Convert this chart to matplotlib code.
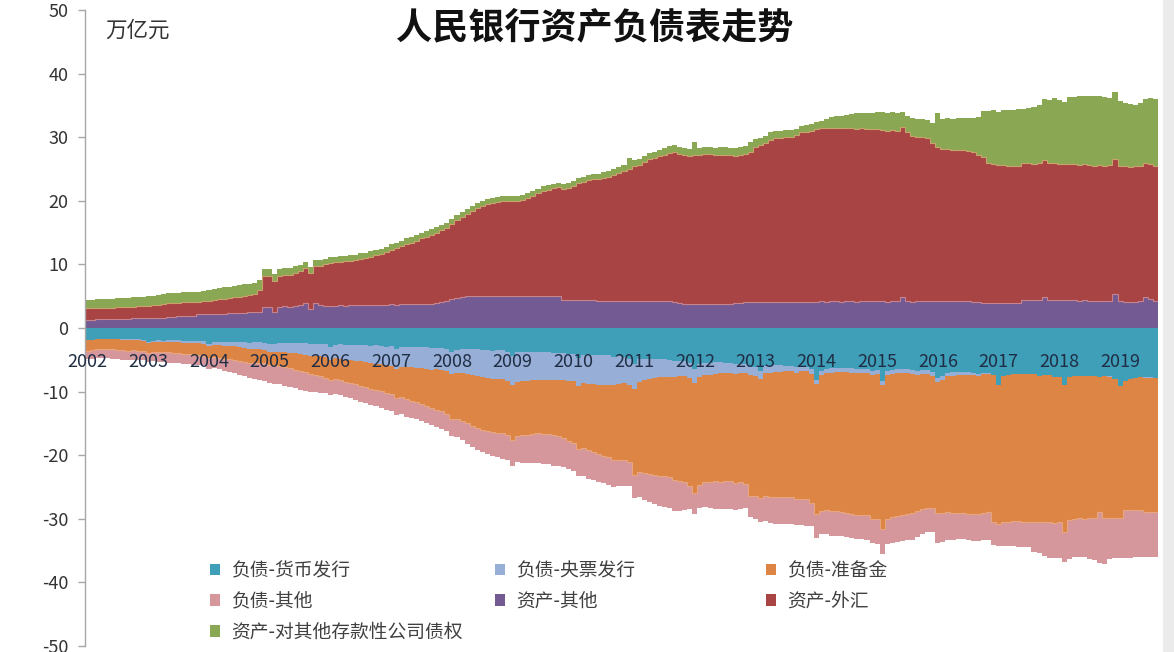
import numpy as np
import matplotlib
matplotlib.use("Agg")
import matplotlib.pyplot as plt
from matplotlib.patches import Patch, Rectangle

plt.rcParams["font.family"] = ["Noto Sans CJK SC", "DejaVu Sans"]
plt.rcParams["axes.unicode_minus"] = False

# 月度数据, 2002-01 ~ 2019-08, 单位: 万亿元
years = ["2002", "2003", "2004", "2005", "2006", "2007", "2008", "2009", "2010",
         "2011", "2012", "2013", "2014", "2015", "2016", "2017", "2018", "2019"]

# 负债-货币发行
currency = [
    1.95, 1.90, 1.72, 1.72, 1.70, 1.71, 1.72, 1.74, 1.80, 1.78, 1.80, 1.86,
    2.23, 1.98, 1.95, 1.97, 1.96, 1.95, 1.96, 1.98, 2.05, 2.02, 2.04, 2.12,
    2.45, 2.22, 2.18, 2.20, 2.18, 2.17, 2.18, 2.21, 2.30, 2.26, 2.27, 2.31,
    2.55, 2.45, 2.38, 2.40, 2.38, 2.37, 2.39, 2.42, 2.50, 2.47, 2.48, 2.56,
    2.92, 2.62, 2.58, 2.62, 2.60, 2.61, 2.64, 2.68, 2.78, 2.74, 2.77, 2.95,
    2.90, 3.30, 2.98, 3.00, 2.98, 2.97, 3.00, 3.05, 3.18, 3.12, 3.14, 3.26,
    3.70, 3.45, 3.35, 3.38, 3.36, 3.37, 3.42, 3.46, 3.56, 3.51, 3.53, 3.72,
    4.40, 3.82, 3.75, 3.75, 3.72, 3.72, 3.76, 3.80, 3.98, 3.90, 3.93, 4.16,
    4.10, 4.65, 4.20, 4.20, 4.17, 4.20, 4.25, 4.32, 4.52, 4.45, 4.50, 4.86,
    5.70, 4.90, 4.85, 4.87, 4.85, 4.88, 4.94, 5.02, 5.23, 5.15, 5.18, 5.57,
    6.50, 5.65, 5.45, 5.45, 5.40, 5.42, 5.45, 5.52, 5.72, 5.62, 5.65, 6.07,
    6.15, 6.70, 5.95, 5.90, 5.85, 5.87, 5.90, 5.97, 6.20, 6.07, 6.10, 6.50,
    8.20, 6.75, 6.40, 6.35, 6.28, 6.28, 6.30, 6.35, 6.50, 6.40, 6.42, 6.72,
    6.55, 8.30, 6.75, 6.55, 6.45, 6.45, 6.48, 6.55, 6.70, 6.60, 6.62, 6.98,
    7.90, 7.50, 7.00, 6.95, 6.90, 6.92, 6.95, 7.02, 7.20, 7.10, 7.15, 7.46,
    9.00, 7.60, 7.35, 7.30, 7.22, 7.22, 7.25, 7.30, 7.50, 7.38, 7.40, 7.71,
    7.75, 8.90, 7.75, 7.55, 7.48, 7.47, 7.50, 7.53, 7.70, 7.60, 7.62, 7.99,
    9.10, 8.30, 7.95, 7.80, 7.72, 7.75, 7.78, 7.82,
]

# 负债-央票发行
cb_bills = [
    0.00, 0.00, 0.00, 0.00, 0.00, 0.05, 0.08, 0.10, 0.12, 0.13, 0.14, 0.15,
    0.16, 0.17, 0.18, 0.20, 0.25, 0.28, 0.30, 0.33, 0.36, 0.38, 0.36, 0.34,
    0.38, 0.45, 0.52, 0.60, 0.66, 0.72, 0.80, 0.88, 0.95, 1.02, 1.10, 1.15,
    1.20, 1.28, 1.38, 1.45, 1.52, 1.60, 1.68, 1.76, 1.84, 1.90, 1.97, 2.03,
    2.08, 2.15, 2.25, 2.35, 2.45, 2.55, 2.62, 2.70, 2.78, 2.85, 2.90, 2.93,
    3.00, 3.08, 3.12, 3.18, 3.22, 3.26, 3.30, 3.34, 3.38, 3.40, 3.43, 3.45,
    3.55, 3.65, 3.78, 3.92, 4.05, 4.15, 4.25, 4.35, 4.42, 4.50, 4.55, 4.58,
    4.62, 4.65, 4.62, 4.55, 4.48, 4.40, 4.35, 4.30, 4.26, 4.22, 4.20, 4.20,
    4.30, 4.40, 4.50, 4.60, 4.70, 4.72, 4.70, 4.62, 4.50, 4.35, 4.20, 4.05,
    3.90, 3.55, 3.30, 3.15, 3.00, 2.85, 2.75, 2.65, 2.55, 2.45, 2.40, 2.33,
    2.20, 2.10, 2.00, 1.90, 1.80, 1.72, 1.65, 1.58, 1.52, 1.47, 1.43, 1.39,
    1.33, 1.27, 1.20, 1.12, 1.05, 0.98, 0.92, 0.86, 0.80, 0.75, 0.71, 0.68,
    0.66, 0.66, 0.65, 0.65, 0.65, 0.65, 0.65, 0.65, 0.65, 0.65, 0.65, 0.65,
    0.65, 0.65, 0.64, 0.64, 0.64, 0.64, 0.64, 0.64, 0.64, 0.64, 0.64, 0.64,
    0.63, 0.62, 0.60, 0.58, 0.56, 0.52, 0.48, 0.40, 0.30, 0.20, 0.05, 0.00,
    0.00, 0.00, 0.00, 0.00, 0.00, 0.00, 0.00, 0.00, 0.00, 0.00, 0.00, 0.00,
    0.00, 0.00, 0.00, 0.00, 0.00, 0.00, 0.00, 0.00, 0.00, 0.00, 0.02, 0.02,
    0.02, 0.02, 0.04, 0.04, 0.04, 0.05, 0.05, 0.05,
]

# 负债-准备金
reserves = [
    1.60, 1.55, 1.58, 1.60, 1.58, 1.62, 1.60, 1.63, 1.62, 1.60, 1.62, 1.65,
    1.55, 1.58, 1.62, 1.60, 1.63, 1.65, 1.68, 1.70, 1.75, 1.80, 1.85, 1.90,
    1.95, 1.95, 1.95, 2.00, 2.05, 2.10, 2.15, 2.20, 2.20, 2.20, 2.15, 2.10,
    2.10, 2.15, 2.25, 2.35, 2.45, 2.60, 2.70, 2.80, 2.90, 3.00, 3.10, 3.20,
    3.20, 3.25, 3.35, 3.45, 3.55, 3.70, 3.85, 3.95, 4.05, 4.15, 4.25, 4.35,
    4.40, 4.60, 4.80, 5.00, 5.20, 5.40, 5.60, 5.80, 6.05, 6.30, 6.55, 6.85,
    7.00, 7.20, 7.45, 7.70, 7.95, 8.20, 8.30, 8.35, 8.40, 8.45, 8.50, 8.55,
    8.60, 8.55, 8.50, 8.50, 8.50, 8.45, 8.50, 8.55, 8.60, 8.80, 9.10, 9.40,
    9.70, 9.90, 10.10, 10.40, 10.70, 10.90, 11.10, 11.40, 11.70, 11.90, 12.10, 12.20,
    13.50, 14.20, 14.70, 15.00, 15.30, 15.50, 15.60, 15.80, 16.10, 16.40, 16.70, 17.00,
    17.20, 17.00, 16.80, 16.80, 16.90, 17.00, 16.90, 17.00, 17.10, 17.20, 17.40, 19.00,
    19.00, 18.80, 19.20, 19.50, 19.60, 19.70, 19.70, 19.80, 19.90, 20.00, 20.10, 20.30,
    20.40, 21.30, 21.60, 21.80, 21.90, 22.00, 22.10, 22.20, 22.20, 22.30, 22.40, 22.60,
    22.90, 22.60, 22.60, 22.50, 22.40, 22.30, 22.20, 21.90, 21.50, 21.20, 21.00, 20.70,
    20.60, 21.00, 21.30, 21.50, 21.60, 21.70, 21.80, 21.80, 21.70, 21.80, 21.80, 23.00,
    21.80, 22.90, 23.10, 23.00, 23.20, 23.30, 23.20, 23.20, 23.00, 23.10, 23.10, 23.00,
    22.80, 23.10, 22.50, 22.50, 22.40, 22.60, 22.40, 22.40, 21.20, 22.20, 22.20, 21.80,
    20.70, 20.30, 20.60, 20.80, 20.90, 21.10, 21.10, 21.10,
]

# 负债-其他
liab_other = [
    1.40, 1.45, 1.40, 1.45, 1.50, 1.45, 1.50, 1.50, 1.45, 1.50, 1.45, 1.35,
    1.45, 1.50, 1.55, 1.60, 1.60, 1.55, 1.60, 1.62, 1.55, 1.60, 1.55, 1.50,
    1.60, 1.65, 1.75, 1.90, 2.00, 2.10, 2.20, 2.30, 2.40, 2.50, 2.60, 2.70,
    2.80, 2.85, 2.85, 2.90, 2.95, 2.90, 2.95, 2.90, 2.80, 2.70, 2.60, 2.45,
    2.40, 2.40, 2.35, 2.40, 2.45, 2.40, 2.45, 2.50, 2.50, 2.55, 2.60, 2.60,
    2.70, 2.65, 2.70, 2.75, 2.70, 2.75, 2.70, 2.75, 2.70, 2.75, 2.70, 2.70,
    2.70, 2.80, 3.00, 3.20, 3.30, 3.45, 3.55, 3.70, 3.80, 3.90, 3.95, 3.95,
    4.00, 4.10, 4.30, 4.45, 4.55, 4.65, 4.70, 4.80, 4.80, 4.70, 4.60, 4.40,
    4.40, 4.35, 4.45, 4.50, 4.40, 4.35, 4.30, 4.35, 4.30, 4.20, 4.00, 3.80,
    3.70, 3.90, 4.20, 4.40, 4.60, 4.70, 4.80, 4.90, 4.85, 4.70, 4.40, 3.60,
    3.30, 3.60, 3.90, 4.20, 4.40, 4.35, 4.40, 4.30, 4.20, 4.10, 3.90, 3.20,
    3.50, 3.80, 4.00, 4.20, 4.25, 4.20, 4.30, 4.20, 4.15, 4.20, 4.20, 3.70,
    3.70, 3.70, 3.80, 3.85, 3.80, 3.75, 3.80, 3.85, 3.80, 3.90, 3.85, 3.80,
    3.90, 3.95, 4.00, 4.10, 4.15, 4.10, 4.05, 4.20, 4.00, 3.95, 3.85, 3.80,
    4.60, 4.50, 4.40, 4.30, 4.10, 4.10, 4.10, 4.20, 4.30, 4.30, 4.35, 3.65,
    3.50, 3.80, 3.90, 3.90, 4.00, 3.90, 4.00, 4.70, 4.80, 5.40, 5.60, 5.50,
    5.60, 4.80, 6.10, 6.00, 6.20, 6.00, 6.40, 6.60, 8.10, 7.30, 6.50, 6.30,
    6.30, 7.50, 7.50, 7.30, 7.40, 7.10, 7.00, 7.00,
]

# 资产-其他
asset_other = [
    1.30, 1.30, 1.35, 1.35, 1.40, 1.40, 1.45, 1.45, 1.45, 1.50, 1.50, 1.50,
    1.50, 1.55, 1.55, 1.60, 1.80, 1.80, 1.85, 1.85, 1.90, 1.90, 2.20, 2.20,
    2.20, 2.20, 2.25, 2.25, 2.30, 2.30, 2.35, 2.40, 2.45, 2.50, 2.55, 3.35,
    3.30, 2.50, 3.30, 3.40, 3.30, 3.50, 3.60, 4.00, 3.00, 4.00, 3.60, 3.50,
    3.45, 3.50, 3.55, 3.50, 3.55, 3.60, 3.55, 3.60, 3.60, 3.65, 3.60, 3.65,
    3.70, 3.65, 3.70, 3.75, 3.70, 3.75, 3.80, 3.75, 3.80, 3.90, 4.10, 4.30,
    4.50, 4.70, 4.85, 5.00, 5.05, 5.10, 5.05, 5.10, 5.10, 5.05, 5.10, 5.10,
    5.10, 5.05, 5.10, 5.05, 5.10, 5.05, 5.00, 5.00, 5.05, 5.00, 4.45, 4.40,
    4.40, 4.40, 4.35, 4.40, 4.35, 4.30, 4.30, 4.30, 4.30, 4.30, 4.30, 4.30,
    4.30, 4.30, 4.25, 4.30, 4.25, 4.30, 4.25, 4.20, 4.15, 4.00, 3.85, 3.80,
    3.80, 3.75, 3.80, 3.75, 3.70, 3.75, 3.80, 3.85, 3.90, 4.00, 4.10, 4.10,
    4.10, 4.10, 4.05, 4.10, 4.10, 4.05, 4.10, 4.10, 4.10, 4.15, 4.10, 4.10,
    4.15, 4.20, 4.15, 4.20, 4.20, 4.15, 4.20, 4.20, 4.15, 4.20, 4.20, 4.20,
    4.20, 4.20, 4.15, 4.20, 4.20, 4.90, 4.20, 4.15, 4.20, 4.20, 4.20, 4.25,
    4.25, 4.20, 4.25, 4.20, 4.20, 4.25, 4.20, 4.15, 4.05, 3.95, 3.90, 3.90,
    3.90, 3.95, 3.90, 3.95, 3.95, 4.40, 4.40, 4.35, 4.40, 4.90, 4.40, 4.40,
    4.40, 4.35, 4.40, 4.35, 4.30, 4.35, 4.30, 4.25, 4.30, 4.25, 4.30, 5.40,
    4.20, 4.15, 4.10, 4.15, 4.20, 4.80, 4.60, 4.20,
]

# 资产-外汇
fx = [
    1.80, 1.82, 1.80, 1.83, 1.80, 1.82, 1.80, 1.83, 1.85, 1.85, 1.90, 1.95,
    2.00, 2.05, 2.10, 2.20, 2.10, 2.15, 2.15, 2.20, 2.18, 2.20, 1.90, 2.00,
    2.10, 2.20, 2.25, 2.35, 2.40, 2.50, 2.55, 2.65, 2.75, 2.90, 3.45, 4.75,
    4.80, 4.85, 4.90, 5.00, 5.10, 5.20, 5.35, 5.45, 5.60, 5.80, 6.20, 6.50,
    6.75, 6.80, 6.85, 7.00, 7.05, 7.10, 7.35, 7.40, 7.60, 7.75, 8.00, 8.25,
    8.60, 8.90, 9.20, 9.50, 9.70, 10.00, 10.30, 10.60, 10.90, 11.10, 11.30, 11.40,
    11.90, 12.30, 12.60, 12.85, 13.30, 13.70, 14.10, 14.40, 14.60, 14.70, 14.80, 14.80,
    14.85, 14.95, 15.10, 15.40, 15.70, 16.10, 16.50, 16.70, 16.90, 17.10, 17.40, 17.60,
    18.00, 18.40, 18.60, 18.80, 19.00, 19.10, 19.30, 19.50, 19.80, 20.10, 20.40, 20.70,
    21.10, 21.40, 21.80, 22.20, 22.50, 22.70, 23.00, 23.30, 23.50, 23.40, 23.30, 23.30,
    23.40, 23.50, 23.60, 23.60, 23.50, 23.50, 23.40, 23.30, 23.20, 23.20, 23.30, 23.60,
    24.30, 24.60, 25.00, 25.50, 25.70, 25.80, 25.90, 26.00, 26.20, 26.60, 26.70, 26.90,
    27.20, 27.30, 27.30, 27.30, 27.30, 27.30, 27.30, 27.30, 27.20, 27.20, 27.10, 27.10,
    27.10, 27.00, 26.90, 26.90, 26.80, 26.70, 26.60, 26.10, 25.90, 25.80, 25.60, 24.90,
    24.20, 24.00, 23.90, 23.80, 23.80, 23.75, 23.60, 23.50, 23.20, 22.90, 22.00, 21.90,
    21.80, 21.70, 21.65, 21.60, 21.55, 21.50, 21.50, 21.50, 21.50, 21.50, 21.50, 21.50,
    21.45, 21.45, 21.40, 21.40, 21.40, 21.40, 21.35, 21.30, 21.30, 21.30, 21.30, 21.25,
    21.25, 21.25, 21.25, 21.25, 21.25, 21.20, 21.20, 21.20,
]

# 资产-对其他存款性公司债权
claims_odc = [
    1.30, 1.30, 1.35, 1.35, 1.40, 1.40, 1.45, 1.40, 1.45, 1.45, 1.50, 1.50,
    1.50, 1.50, 1.55, 1.55, 1.55, 1.55, 1.55, 1.60, 1.60, 1.60, 1.60, 1.65,
    1.70, 1.70, 1.75, 1.80, 1.80, 1.85, 1.85, 1.80, 1.75, 1.70, 1.55, 1.20,
    1.10, 1.10, 1.05, 1.05, 1.00, 1.00, 1.00, 0.95, 0.95, 0.95, 0.90, 0.90,
    0.90, 0.90, 0.85, 0.85, 0.85, 0.85, 0.85, 0.85, 0.85, 0.85, 0.85, 0.90,
    0.85, 0.85, 0.85, 0.85, 0.85, 0.85, 0.85, 0.85, 0.85, 0.85, 0.85, 0.80,
    0.80, 0.80, 0.80, 0.80, 0.80, 0.80, 0.80, 0.80, 0.80, 0.80, 0.80, 0.85,
    0.80, 0.80, 0.75, 0.75, 0.75, 0.75, 0.75, 0.75, 0.75, 0.75, 0.75, 0.75,
    0.75, 0.80, 0.80, 0.80, 0.80, 0.80, 0.85, 0.85, 0.85, 0.90, 0.90, 1.80,
    0.95, 0.95, 1.00, 1.00, 1.00, 1.05, 1.05, 1.05, 1.10, 1.10, 1.10, 1.05,
    2.10, 1.10, 1.10, 1.15, 1.15, 1.15, 1.20, 1.20, 1.20, 1.20, 1.25, 1.50,
    1.30, 1.25, 1.20, 1.15, 1.15, 1.10, 1.10, 1.10, 1.05, 1.05, 1.05, 1.10,
    1.00, 1.10, 1.40, 1.60, 1.80, 1.90, 2.00, 2.20, 2.40, 2.40, 2.45, 2.50,
    2.60, 2.70, 2.80, 2.80, 2.80, 2.40, 2.60, 2.80, 2.80, 2.80, 2.90, 3.10,
    5.40, 4.70, 4.80, 4.90, 5.00, 5.00, 5.20, 5.40, 6.00, 7.20, 8.20, 8.50,
    8.20, 8.60, 8.70, 8.80, 8.90, 8.50, 8.70, 8.90, 9.20, 9.60, 10.00, 10.20,
    10.00, 9.80, 10.50, 10.60, 10.70, 10.80, 10.90, 11.00, 10.90, 10.80, 10.60, 10.50,
    10.20, 9.90, 9.80, 9.70, 10.00, 10.00, 10.30, 10.60,
]

liab_labels = ["负债-货币发行", "负债-央票发行", "负债-准备金", "负债-其他"]
asset_labels = ["资产-其他", "资产-外汇", "资产-对其他存款性公司债权"]
liab_colors = ["#409FB8", "#97AED6", "#DC8544", "#D5979B"]
asset_colors = ["#745A92", "#A84444", "#8AA754"]
# 图层交界处的浅色细线 (原图的描边)
liab_seams = [None, None, "#E9A57C", None]
asset_seams = ["#C7848F", "#C9A36C", None]

W, H = 1174, 652
fig = plt.figure(figsize=(W / 100, H / 100), dpi=100)
ax = fig.add_axes([85 / W, 6 / H, 1073 / W, 636 / H])
ax.patch.set_visible(False)

n = len(currency)
edges = np.arange(n + 1) - 0.5

# 负债向下堆叠
base = np.zeros(n)
for vals, color, seam in zip([currency, cb_bills, reserves, liab_other],
                             liab_colors, liab_seams):
    top = base + np.asarray(vals)
    ax.stairs(-top, edges, baseline=-base, fill=True, color=color, lw=0)
    if seam:
        ax.stairs(-top, edges, baseline=None, color=seam, lw=0.8, zorder=1.2)
    base = top

# 资产向上堆叠
base = np.zeros(n)
for vals, color, seam in zip([asset_other, fx, claims_odc], asset_colors, asset_seams):
    top = base + np.asarray(vals)
    ax.stairs(top, edges, baseline=base, fill=True, color=color, lw=0)
    if seam:
        ax.stairs(top, edges, baseline=None, color=seam, lw=0.8, zorder=1.2)
    base = top

ax.set_xlim(-0.5, n - 0.5)
ax.set_ylim(-50, 50)
ax.set_yticks(range(-50, 51, 10))
ax.set_xticks(np.arange(len(years)) * 12)
ax.set_xticklabels(years)

for side in ["top", "right"]:
    ax.spines[side].set_visible(False)
ax.spines["bottom"].set_position(("data", 0))
ax.spines["bottom"].set_visible(False)
ax.spines["left"].set_color("#A6A6A6")
ax.spines["left"].set_linewidth(1)
ax.set_axisbelow(False)

ax.tick_params(axis="y", direction="out", length=5, width=1, color="#A6A6A6",
               labelsize=13, labelcolor="#333333", pad=7)
ax.tick_params(axis="x", length=0, pad=18, labelsize=13, labelcolor="#1F2D45")

fig.text(595 / W, 1 - 28 / H, "人民银行资产负债表走势", ha="center", va="center",
         fontsize=26, fontweight="bold", color="#111111")
fig.text(105 / W, 1 - 31 / H, "万亿元", ha="left", va="center",
         fontsize=15.5, color="#333333")

# 图例: 三列, 按行排列
handles = {lab: Patch(facecolor=c) for lab, c in
           zip(liab_labels + asset_labels, liab_colors + asset_colors)}
columns = [
    (210, ["负债-货币发行", "负债-其他", "资产-对其他存款性公司债权"]),
    (495, ["负债-央票发行", "资产-其他"]),
    (766, ["负债-准备金", "资产-外汇"]),
]
for x0, labs in columns:
    fig.legend([handles[l] for l in labs], labs, loc="upper left",
               bbox_to_anchor=(x0 / W, 1 - 560 / H), frameon=False,
               fontsize=13.5, handlelength=0.55, handleheight=0.55,
               handletextpad=0.6, borderpad=0, borderaxespad=0,
               labelspacing=0.52, labelcolor="#404040")

# 截图右侧的灰边
fig.patches.append(Rectangle((1163 / W, 0), 11 / W, 1, transform=fig.transFigure,
                             facecolor="#EBEBEB", edgecolor="none", zorder=-1))

fig.savefig("out.png", dpi=100)
